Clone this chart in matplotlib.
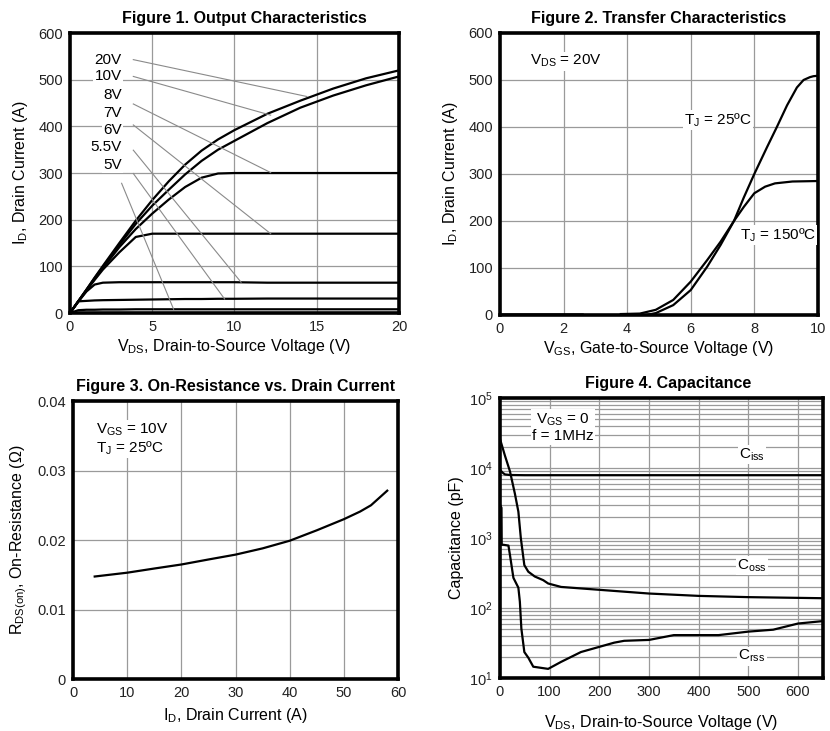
import numpy as np
import matplotlib
matplotlib.use('Agg')
import matplotlib.pyplot as plt
from matplotlib.ticker import MultipleLocator, LogLocator, NullFormatter

plt.rcParams['font.family'] = ['Liberation Sans', 'DejaVu Sans']
plt.rcParams['mathtext.fontset'] = 'custom'
plt.rcParams['mathtext.rm'] = 'Liberation Sans'
plt.rcParams['mathtext.it'] = 'Liberation Sans:italic'
plt.rcParams['mathtext.bf'] = 'Liberation Sans:bold'

# Figure 1 - output characteristics
vds_out = [0, 0.5, 1, 1.5, 2, 3, 4, 5, 6, 7, 8, 9, 10, 12, 14, 16, 18, 20]
id_20v = [0, 25, 50, 76, 101, 150, 198, 242, 282, 318, 348, 372, 392, 427, 455, 481, 503, 520]
id_10v = [0, 25, 50, 75, 99, 146, 191, 230, 264, 297, 326, 350, 369, 407, 440, 466, 488, 507]
id_8v = [0, 25, 49, 73, 96, 141, 180, 213, 243, 270, 290, 299, 300, 300, 300, 300, 300, 300]
id_7v = [0, 24, 48, 71, 93, 130, 163, 170, 170, 170, 170, 170, 170, 170, 170, 170, 170, 170]
id_6v = [0, 24, 46, 61, 65, 66, 66, 66, 66, 66, 66, 66, 66, 65, 65, 65, 65, 65]
id_55v = [0, 25, 26, 27, 27.5, 28, 28.5, 29, 29.5, 30, 30, 30.5, 30.5, 31, 31, 31, 31, 31]
id_5v = [0, 6, 7, 7, 7.5, 7.5, 8, 8, 8, 8, 8, 8, 8, 8, 8, 8, 8, 8]
out_labels = ['20V', '10V', '8V', '7V', '6V', '5.5V', '5V']
out_label_y = [543, 507, 467, 428, 392, 356, 317]
leader_start = [(3.85, 543), (3.85, 507), (3.85, 448), (3.85, 403), (3.85, 349), (3.85, 299), (3.14, 278)]
leader_end = [(14.4, 464), (12.2, 424), (12.2, 301), (12.2, 170), (10.4, 66), (9.4, 30), (6.3, 8)]

# Figure 2 - transfer characteristics
vgs_25 = [0, 2.6, np.nan, 4.6, 4.9, 5.45, 6, 6.52, 6.94, 7.36, 7.67, 8, 8.4, 8.71, 9.03, 9.34, 9.55, 9.75, 9.86, 10]
id_25 = [1, 1, np.nan, 0, 4, 21, 53, 103, 149, 200, 250, 300, 357, 400, 446, 484, 500, 506, 508, 509]
vgs_150 = [3.8, 4.4, 4.9, 5.45, 6, 6.52, 6.94, 7.36, 7.67, 8, 8.34, 8.65, 9.2, 10]
id_150 = [2, 3, 11, 32, 71, 117, 156, 200, 230, 259, 273, 280, 284, 285]

# Figure 3 - on-resistance
id_ron = [4, 10, 15, 20, 25, 30, 35, 40, 45, 50, 53, 55, 58]
r_on = [0.01475, 0.0153, 0.0159, 0.01648, 0.0172, 0.0179, 0.0188, 0.0199, 0.0214, 0.0230, 0.0241, 0.0250, 0.0271]

# Figure 4 - capacitance
vds_iss = [0, 5, 10, 20, 50, 100, 300, 650]
c_iss = [9500, 8600, 8100, 7950, 7900, 7900, 7900, 7900]
vds_oss = [0, 10, 20, 30, 37, 42, 49, 57, 70, 87, 97, 123, 200, 300, 400, 500, 650]
c_oss = [26000, 15000, 9000, 4300, 2380, 990, 410, 330, 282, 250, 224, 200, 182, 161, 149, 143, 138]
vds_rss = [0, 3, 3.5, 7, 17, 20, 27, 37, 40, 43, 49, 57, 67, 97, 123, 163, 230, 250, 300, 350, 440, 500, 550, 600, 650]
c_rss = [3000, 2700, 800, 800, 780, 575, 270, 195, 123, 51, 23.5, 19.5, 14.5, 13.5, 17, 23.5, 32, 34, 35, 41, 41, 46, 49, 60, 65]
cap_labels = [r'$\mathregular{C_{iss}}$', r'$\mathregular{C_{oss}}$', r'$\mathregular{C_{rss}}$']
cap_label_y = [15700, 400, 20.5]

fig = plt.figure(figsize=(8.3, 7.31), dpi=100)
ax1 = fig.add_axes([0.0843, 0.5718, 0.3964, 0.383])
ax2 = fig.add_axes([0.6024, 0.5691, 0.383, 0.3858])
ax3 = fig.add_axes([0.088, 0.0711, 0.3916, 0.3803])
ax4 = fig.add_axes([0.6024, 0.0725, 0.389, 0.383])

grid_kw = dict(color='#9a9a9a', linewidth=0.9)
curve_kw = dict(color='black', linewidth=1.6)
box = dict(facecolor='white', edgecolor='none', pad=1)
TXT = 11
LAB = 11.5


def style(ax, title, tx=0.5):
    for s in ax.spines.values():
        s.set_linewidth(2.6)
    ax.tick_params(length=0, labelsize=10.5, pad=5, colors='#222222')
    ax.set_title(title, fontsize=11.5, fontweight='bold', pad=7, x=tx)
    ax.set_axisbelow(True)


# Figure 1
ax = ax1
for y in [id_20v, id_10v, id_8v, id_7v, id_6v, id_55v, id_5v]:
    ax.plot(vds_out, y, **curve_kw)
for (x0, y0), (x1, y1) in zip(leader_start, leader_end):
    ax.plot([x0, x1], [y0, y1], color='#8a8a8a', linewidth=0.8)
for lab, y in zip(out_labels, out_label_y):
    ax.text(3.15, y, lab, ha='right', va='center', fontsize=TXT, bbox=box)
ax.set_xlim(0, 20)
ax.set_ylim(0, 600)
ax.xaxis.set_major_locator(MultipleLocator(5))
ax.yaxis.set_major_locator(MultipleLocator(100))
ax.grid(True, **grid_kw)
ax.set_xlabel(r'$\mathregular{V_{DS}}$, Drain-to-Source Voltage (V)', fontsize=LAB, labelpad=2)
ax.set_ylabel(r'$\mathregular{I_D}$, Drain Current (A)', fontsize=LAB, labelpad=6)
style(ax, 'Figure 1. Output Characteristics', tx=0.53)

# Figure 2
ax = ax2
ax.plot(vgs_25, id_25, **curve_kw)
ax.plot(vgs_150, id_150, **curve_kw)
ax.text(0.95, 540, r'$\mathregular{V_{DS}}$ = 20V', ha='left', va='center', fontsize=TXT, bbox=box)
ax.text(5.8, 415, r'$\mathregular{T_J}$ = 25ºC', ha='left', va='center', fontsize=TXT, bbox=box)
ax.text(7.55, 170, r'$\mathregular{T_J}$ = 150ºC', ha='left', va='center', fontsize=TXT, bbox=box)
ax.set_xlim(0, 10)
ax.set_ylim(0, 600)
ax.xaxis.set_major_locator(MultipleLocator(2))
ax.yaxis.set_major_locator(MultipleLocator(100))
ax.grid(True, **grid_kw)
ax.set_xlabel(r'$\mathregular{V_{GS}}$, Gate-to-Source Voltage (V)', fontsize=LAB, labelpad=2)
ax.set_ylabel(r'$\mathregular{I_D}$, Drain Current (A)', fontsize=LAB, labelpad=6)
style(ax, 'Figure 2. Transfer Characteristics')

# Figure 3
ax = ax3
ax.plot(id_ron, r_on, **curve_kw)
ax.text(4.3, 0.0345, r'$\mathregular{V_{GS}}$ = 10V' + '\n' + r'$\mathregular{T_J}$ = 25ºC',
        ha='left', va='center', fontsize=TXT, linespacing=1.1, bbox=box)
ax.set_xlim(0, 60)
ax.set_ylim(0, 0.04)
ax.xaxis.set_major_locator(MultipleLocator(10))
ax.yaxis.set_major_locator(MultipleLocator(0.01))
ax.yaxis.set_major_formatter(plt.FuncFormatter(lambda v, p: '0' if v == 0 else f'{v:g}'))
ax.grid(True, **grid_kw)
ax.set_xlabel(r'$\mathregular{I_D}$, Drain Current (A)', fontsize=LAB, labelpad=4)
ax.set_ylabel(r'$\mathregular{R_{DS(on)}}$, On-Resistance (Ω)', fontsize=LAB, labelpad=6)
style(ax, 'Figure 3. On-Resistance vs. Drain Current')

# Figure 4
ax = ax4
ax.plot(vds_iss, c_iss, **curve_kw)
ax.plot(vds_oss, c_oss, **curve_kw)
ax.plot(vds_rss, c_rss, **curve_kw)
ax.set_yscale('log')
ax.set_xlim(0, 650)
ax.set_ylim(10, 1e5)
ax.xaxis.set_major_locator(MultipleLocator(100))
ax.yaxis.set_major_locator(LogLocator(base=10, numticks=10))
ax.yaxis.set_minor_locator(LogLocator(base=10, subs=np.arange(2, 10), numticks=20))
ax.yaxis.set_minor_formatter(NullFormatter())
ax.grid(True, which='major', **grid_kw)
ax.grid(True, which='minor', axis='y', **grid_kw)
ax.text(127, 10 ** 4.58, r'$\mathregular{V_{GS}}$ = 0' + '\n' + 'f = 1MHz',
        ha='center', va='center', fontsize=TXT, linespacing=1.1, bbox=box)
for lab, y in zip(cap_labels, cap_label_y):
    ax.text(507, y, lab, ha='center', va='center', fontsize=TXT, bbox=box)
ax.set_xlabel(r'$\mathregular{V_{DS}}$, Drain-to-Source Voltage (V)', fontsize=LAB, labelpad=10)
ax.set_ylabel('Capacitance (pF)', fontsize=LAB, labelpad=4)
style(ax, 'Figure 4. Capacitance', tx=0.52)
ax.tick_params(which='minor', length=0)

fig.savefig('out.png', dpi=100)
